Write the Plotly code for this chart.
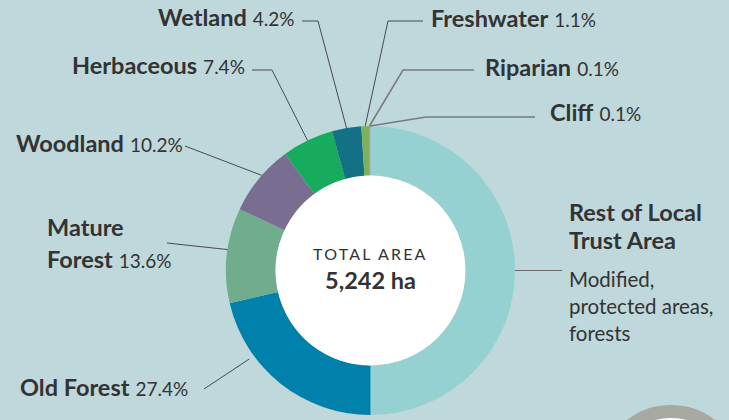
import math
import plotly.graph_objects as go

# ---------------- data ----------------
categories = ["Rest of Local Trust Area", "Old Forest", "Mature Forest", "Woodland",
              "Herbaceous", "Wetland", "Freshwater", "Riparian", "Cliff"]
values = [64.1, 27.4, 13.6, 10.2, 7.4, 4.2, 1.1, 0.1, 0.1]
colors = ["#95D1D1", "#0081AC", "#6FAD8C", "#7A6D92", "#17AB5E",
          "#127184", "#7CB15A", "#9E8BB5", "#A79BBE"]
center_title = "TOTAL AREA"
center_value = "5,242 ha"
rest_title = ["Rest of Local", "Trust Area"]
rest_desc = ["Modified,", "protected areas,", "forests"]

# ---------------- layout helpers ----------------
W, H = 729, 420
CX, CY, R_OUT = 370.5, 270.5, 144.5
HOLE = 0.657
BG = "#BFD8DB"
TXT = "#333333"
FONT = "Lato"
SB = 23.5   # bold label size
SR = 19     # percentage size


def px(x):
    return x / W


def py(y):
    return 1 - y / H


total = sum(values)
angles = []
cum = 0.0
for v in values:
    angles.append((cum / total * 360, (cum + v) / total * 360))
    cum += v


def anchor(i, frac=0.5, rfac=1.0):
    a0, a1 = angles[i]
    th = math.radians(a0 + frac * (a1 - a0))
    r = R_OUT * rfac
    return CX + r * math.sin(th), CY - r * math.cos(th)


fig = go.Figure(go.Pie(
    labels=categories, values=values, sort=False, direction="clockwise",
    rotation=0, hole=HOLE, textinfo="none", showlegend=False,
    marker=dict(colors=colors, line=dict(width=0)),
    domain=dict(x=[px(CX - R_OUT), px(CX + R_OUT)], y=[py(CY + R_OUT), py(CY - R_OUT)]),
))

shapes = []
annotations = []

# white centre
ri = R_OUT * HOLE
shapes.append(dict(type="circle", xref="paper", yref="paper",
                   x0=px(CX - ri), x1=px(CX + ri), y0=py(CY + ri), y1=py(CY - ri),
                   fillcolor="white", line=dict(width=0), layer="above"))

# decorative ring bottom-right
rc = 65.5
shapes.append(dict(type="circle", xref="paper", yref="paper",
                   x0=px(671 - rc), x1=px(671 + rc), y0=py(477 + rc), y1=py(477 - rc),
                   fillcolor="white", line=dict(color="#A9A9A3", width=13), layer="below"))


def path(points, color="#4a4a4a", width=1):
    d = "M " + " L ".join(f"{px(x):.5f},{py(y):.5f}" for x, y in points)
    shapes.append(dict(type="path", xref="paper", yref="paper", path=d,
                       line=dict(color=color, width=width), layer="above"))


def text(x, y, t, size, xanchor="left"):
    annotations.append(dict(x=px(x), y=py(y), xref="paper", yref="paper", showarrow=False,
                            xanchor=xanchor, yanchor="middle", text=t,
                            font=dict(family=FONT, size=size, color=TXT)))


def label(x, y, name, i, xanchor="left"):
    pct = f"{values[i]:.1f}%"
    text(x, y, f"<b>{name}</b> <span style='font-size:{SR}px'>{pct}</span>", SB, xanchor)


idx = {c: i for i, c in enumerate(categories)}

# Wetland
label(297, 17.5, "Wetland", idx["Wetland"], xanchor="right")
path([(302, 21), (318, 21), anchor(idx["Wetland"])])
# Herbaceous
label(247, 65, "Herbaceous", idx["Herbaceous"], xanchor="right")
path([(252, 70), (272, 70), anchor(idx["Herbaceous"])])
# Woodland
label(185, 143, "Woodland", idx["Woodland"], xanchor="right")
path([(185, 146), anchor(idx["Woodland"], 0.56)])
# Mature Forest (two lines)
text(45, 226.5, "<b>Mature</b>", SB)
label(45, 259, "Forest", idx["Mature Forest"])
path([(167, 243), anchor(idx["Mature Forest"], 0.56)])
# Old Forest
label(18, 387, "Old Forest", idx["Old Forest"])
path([(204, 389), anchor(idx["Old Forest"], 0.70, 1.04)])
# Freshwater
label(429, 18.3, "Freshwater", idx["Freshwater"])
path([(423, 21), (388, 21), anchor(idx["Freshwater"])])
# Riparian
label(483, 66.5, "Riparian", idx["Riparian"])
path([(474, 70), (403, 70), anchor(idx["Riparian"])], color="#7a7a7a", width=1.5)
# Cliff
label(548, 112.5, "Cliff", idx["Cliff"])
path([(535, 117), (426, 117), anchor(idx["Cliff"])], color="#7a7a7a", width=1.5)

# Rest of Local Trust Area
for k, t in enumerate(rest_title):
    text(567, 212 + 27.5 * k, f"<b>{t}</b>", SB)
for k, t in enumerate(rest_desc):
    text(567, 278.5 + 27 * k, t, 20.5)
ax, ay = anchor(idx["Rest of Local Trust Area"])
path([(ax, ay), (562, ay)], color="#6a6a6a", width=1)

# centre text
text(CX, 254, f"<span style='letter-spacing:2.2px'>{center_title}</span>", 16, "center")
text(CX, 280, f"<b>{center_value}</b>", 23.5, "center")

fig.update_layout(width=W, height=H, margin=dict(l=0, r=0, t=0, b=0),
                  paper_bgcolor=BG, plot_bgcolor=BG,
                  shapes=shapes, annotations=annotations)

fig.write_html("out.html", config={"displayModeBar": False},
               post_script="document.body.style.margin='0';")
